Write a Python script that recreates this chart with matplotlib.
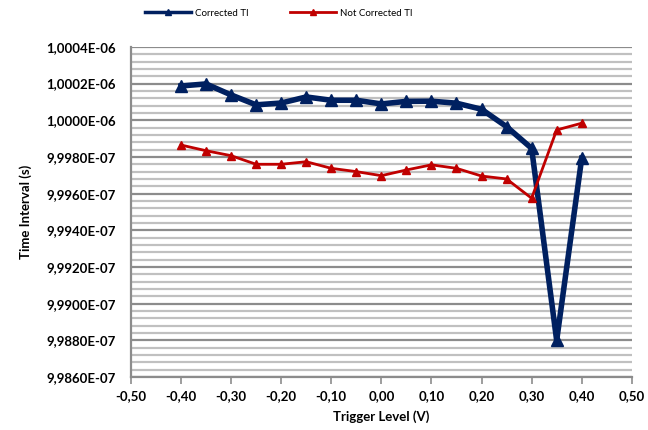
import numpy as np
import matplotlib
matplotlib.use("Agg")
import matplotlib.pyplot as plt
from matplotlib.ticker import FuncFormatter, MultipleLocator

trigger = [-0.40, -0.35, -0.30, -0.25, -0.20, -0.15, -0.10, -0.05, 0.00,
           0.05, 0.10, 0.15, 0.20, 0.25, 0.30, 0.35, 0.40]
# offsets from 1e-6 s, in units of 1e-10 s
corrected = [1.87, 1.98, 1.38, 0.84, 0.94, 1.27, 1.09, 1.09, 0.89,
             1.03, 1.04, 0.93, 0.60, -0.35, -1.53, -12.0, -2.07]
not_corrected = [-1.35, -1.66, -1.93, -2.40, -2.40, -2.26, -2.62, -2.80, -3.02,
                 -2.71, -2.43, -2.62, -3.04, -3.20, -4.25, -0.53, -0.16]

corrected_s = 1e-6 + np.array(corrected) * 1e-10
not_corrected_s = 1e-6 + np.array(not_corrected) * 1e-10

plt.rcParams['font.family'] = ['Lato', 'DejaVu Sans']

fig = plt.figure(figsize=(6.48, 4.30), dpi=100)
ax = fig.add_axes([0.202, 0.123, 0.773, 0.768])

ax.plot(trigger, corrected_s, color='#002060', lw=4, marker='^', ms=8,
        label='Corrected TI', zorder=3)
ax.plot(trigger, not_corrected_s, color='#C00000', lw=2, marker='^', ms=6,
        label='Not Corrected TI', zorder=4)

ax.set_xlim(-0.5, 0.5)
ax.set_ylim(9.986e-7, 1.0004e-6)
ax.xaxis.set_major_locator(MultipleLocator(0.1))
ax.yaxis.set_major_locator(MultipleLocator(2e-10))
ax.yaxis.set_minor_locator(MultipleLocator(4e-11))

def fmt_x(v, pos):
    if abs(v) < 1e-9:
        v = 0.0
    return f"{v:.2f}".replace('.', ',')

def fmt_y(v, pos):
    return f"{v:.4E}".replace('.', ',')

ax.xaxis.set_major_formatter(FuncFormatter(fmt_x))
ax.yaxis.set_major_formatter(FuncFormatter(fmt_y))

ax.grid(which='major', axis='y', color='#8c8c8c', lw=1.6)
ax.grid(which='minor', axis='y', color='#c0c0c0', lw=1.6)
ax.set_axisbelow(True)

for s in ['top', 'right']:
    ax.spines[s].set_visible(False)
for s in ['left', 'bottom']:
    ax.spines[s].set_color('#8c8c8c')
    ax.spines[s].set_linewidth(1.6)

ax.tick_params(axis='x', length=5, width=1.2, color='#8c8c8c', labelsize=9.5, pad=4)
ax.tick_params(axis='y', which='both', length=0, labelsize=9.5, pad=11)
for lab in ax.get_xticklabels() + ax.get_yticklabels():
    lab.set_fontweight('bold')

ax.set_xlabel('Trigger Level (V)', fontsize=9.5, fontweight='bold', labelpad=6)
ax.set_ylabel('Time Interval (s)', fontsize=9.5, fontweight='bold', labelpad=10)

leg = fig.legend(loc='upper center', bbox_to_anchor=(0.43, 1.0), ncol=2, frameon=False,
                 fontsize=7, handlelength=4.8, handletextpad=0.4, columnspacing=4.2)
for ln, lw in zip(leg.get_lines(), [2.5, 2]):
    ln.set_markersize(5)
    ln.set_linewidth(lw)

fig.savefig('out.png', dpi=100)
plt.close(fig)
